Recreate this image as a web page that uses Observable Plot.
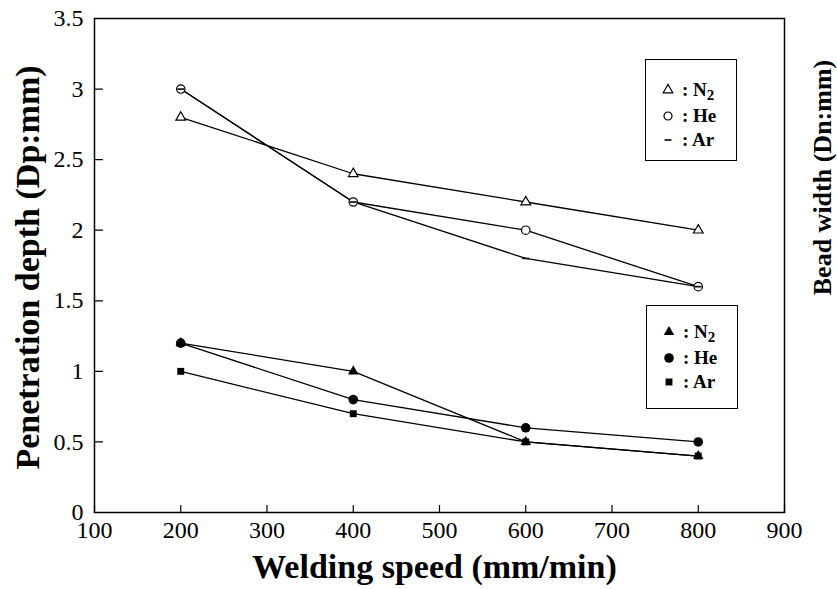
<!DOCTYPE html>
<html><head><meta charset="utf-8">
<script src="https://cdn.jsdelivr.net/npm/d3@7"></script>
<script src="https://cdn.jsdelivr.net/npm/@observablehq/plot@0.6"></script>
<style>
body{margin:0;background:#fff;}
#wrap{position:relative;width:837px;height:589px;font-family:"Liberation Serif","Times New Roman",serif;color:#000;}
.legend{position:absolute;box-sizing:border-box;border:1.5px solid #000;background:#fff;font-weight:bold;font-size:19px;}
.row{position:absolute;left:0;height:22px;width:100%;}
.row svg{position:absolute;left:13px;top:2px;}
.row span{position:absolute;left:36px;top:0;line-height:22px;white-space:nowrap;}
.row sub{font-size:15px;vertical-align:-4px;line-height:0;}
</style></head><body><div id="wrap"></div>
<script>
// ---- data ----
const speeds = [200, 400, 600, 800];
// bead width (open markers)
const widthN2 = [2.8, 2.4, 2.2, 2.0];
const widthHe = [3.0, 2.2, 2.0, 1.6];
const widthAr = [3.0, 2.2, 1.8, 1.6];
// penetration depth (filled markers)
const depthN2 = [1.2, 1.0, 0.5, 0.4];
const depthHe = [1.2, 0.8, 0.6, 0.5];
const depthAr = [1.0, 0.7, 0.5, 0.4];
const xTicks = [100, 200, 300, 400, 500, 600, 700, 800, 900];
const yTicks = [0, 0.5, 1, 1.5, 2, 2.5, 3, 3.5];
const yTickLabels = ["0", "0.5", "1", "1.5", "2", "2.5", "3", "3.5"];
const xTitle = "Welding speed (mm/min)";
const yTitle = "Penetration depth (Dp:mm)";
const y2Title = "Bead width (Dn:mm)";

const rows = (vals, gas, group) => speeds.map((s, i) => ({speed: s, value: vals[i], gas, group}));
const wN2 = rows(widthN2, "N2", "width"), wHe = rows(widthHe, "He", "width"), wAr = rows(widthAr, "Ar", "width");
const dN2 = rows(depthN2, "N2", "depth"), dHe = rows(depthHe, "He", "depth"), dAr = rows(depthAr, "Ar", "depth");
const all = [...wN2, ...wHe, ...wAr, ...dN2, ...dHe, ...dAr];

const dash = {draw(ctx, size) { const w = Math.sqrt(size) * 0.5; ctx.moveTo(-w, 0); ctx.lineTo(w, 0); }};
const tickShape = {draw(ctx, l) { ctx.moveTo(0, 0); ctx.lineTo(0, -l); }};
const P = {x: "speed", y: "value"};

const chart = Plot.plot({
  width: 837, height: 589,
  marginLeft: 94, marginRight: 53, marginTop: 18, marginBottom: 77,
  style: {fontFamily: '"Liberation Serif","Times New Roman",serif', fontSize: "24px", color: "#000", background: "#fff", overflow: "visible"},
  x: {domain: [100, 900]},
  y: {domain: [0, 3.5]},
  marks: [
    Plot.frame({stroke: "#000", strokeWidth: 1.5}),
    // inward ticks
    Plot.vector(xTicks, {x: d => d, y: () => yTicks[0], length: 7, rotate: 0, anchor: "start", stroke: "#000", strokeWidth: 1.2, shape: tickShape}),
    Plot.vector(yTicks, {x: () => xTicks[0], y: d => d, length: 8, rotate: 90, anchor: "start", stroke: "#000", strokeWidth: 1.2, shape: tickShape}),
    Plot.axisX({ticks: xTicks, tickSize: 0, tickPadding: 8, fontSize: 24, label: null}),
    Plot.axisY({ticks: yTicks, tickSize: 0, tickPadding: 11, fontSize: 24, label: null,
      tickFormat: d => yTickLabels[yTicks.indexOf(d)]}),
    Plot.line(all, {...P, z: d => d.group + d.gas, stroke: "#000", strokeWidth: 1.3}),
    // open markers
    Plot.dot(wN2, {...P, symbol: "triangle", r: 3.6, stroke: "#000", fill: "#fff", strokeWidth: 1.2}),
    Plot.dot(wHe, {...P, symbol: "circle", r: 4.2, stroke: "#000", fill: "#fff", strokeWidth: 1.2}),
    Plot.dot(wAr, {...P, symbol: dash, r: 3.8, stroke: "#000", fill: "none", strokeWidth: 1.6}),
    // filled markers
    Plot.dot(dAr, {...P, symbol: "square", r: 3.9, fill: "#000"}),
    Plot.dot(dN2, {...P, symbol: "triangle", r: 3.9, fill: "#000"}),
    Plot.dot(dHe, {...P, symbol: "circle", r: 4.8, fill: "#000"}),
    // titles
    Plot.text([xTitle], {frameAnchor: "bottom", dx: -5, dy: 55, text: d => d, fontSize: 34, fontWeight: "bold", lineAnchor: "middle", textAnchor: "middle"}),
    Plot.text([yTitle], {frameAnchor: "left", dx: -66, dy: 2, rotate: -90, text: d => d, fontSize: 34, fontWeight: "bold", lineAnchor: "middle", textAnchor: "middle"}),
    Plot.text([y2Title], {frameAnchor: "top-right", dx: 38, dy: 159, rotate: -90, text: d => d, fontSize: 26, fontWeight: "bold", lineAnchor: "middle", textAnchor: "middle"})
  ]
});
const wrap = document.getElementById("wrap");
wrap.appendChild(chart);

// ---- legends ----
function icon(kind, r, filled) {
  const s = 18, c = s / 2;
  let shape;
  if (kind === "dash") shape = `<line x1="${c - 3.5}" x2="${c + 3.5}" y1="${c}" y2="${c}" stroke="#000" stroke-width="1.6"/>`;
  else {
    const sym = {triangle: d3.symbolTriangle, circle: d3.symbolCircle, square: d3.symbolSquare}[kind];
    const d = d3.symbol(sym, Math.PI * r * r)();
    shape = `<path transform="translate(${c},${c})" d="${d}" fill="${filled ? "#000" : "#fff"}" stroke="${filled ? "none" : "#000"}" stroke-width="1.2"/>`;
  }
  return `<svg width="${s}" height="${s}">${shape}</svg>`;
}
const legendLabels = [": N<sub>2</sub>", ": He", ": Ar"];
function legend(left, top, w, h, centers, kinds) {
  const box = document.createElement("div");
  box.className = "legend";
  Object.assign(box.style, {left: left + "px", top: top + "px", width: w + "px", height: h + "px"});
  box.innerHTML = kinds.map((k, i) =>
    `<div class="row" style="top:${centers[i] - 11}px">${icon(k[0], k[1], k[2])}<span>${legendLabels[i]}</span></div>`).join("");
  wrap.appendChild(box);
}
legend(645, 59, 92, 102, [30, 56, 80], [["triangle", 3.6, false], ["circle", 4, false], ["dash", 0, false]]);
legend(646, 305, 92, 104, [26, 52, 76], [["triangle", 3.9, true], ["circle", 4.8, true], ["square", 3.9, true]]);
</script></body></html>
